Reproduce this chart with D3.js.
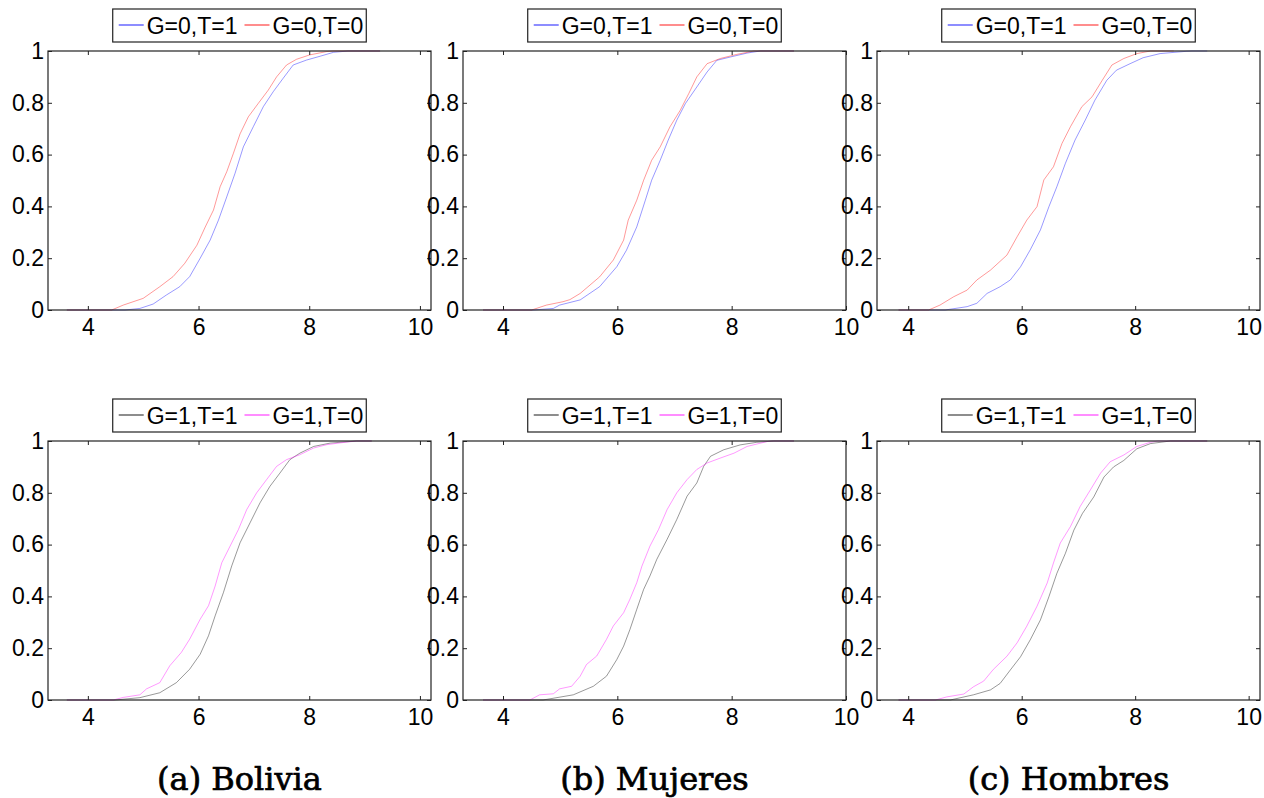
<!DOCTYPE html>
<html>
<head>
<meta charset="utf-8">
<script src="https://cdn.jsdelivr.net/npm/d3@7"></script>
<style>
  body { margin: 0; background: #fff; }
  svg { display: block; }
  .tick text { font-family: "Liberation Sans", Arial, sans-serif; font-size: 23px; fill: #000; }
</style>
</head>
<body>
<div id="chart"></div>
<script>
// tick labels and captions
const xTicks = [4, 6, 8, 10];
const yTicks = [0, 0.2, 0.4, 0.6, 0.8, 1];
const captions = ["(a) Bolivia", "(b) Mujeres", "(c) Hombres"];
const legendTop = ["G=0,T=1", "G=0,T=0"];
const legendBottom = ["G=1,T=1", "G=1,T=0"];

const boliviaG0T1 = [[3.62,0],[4.67,0],[4.94,0.006],[5.18,0.023],[5.42,0.058],[5.66,0.09],[5.84,0.129],[6.03,0.2],[6.21,0.27],[6.36,0.347],[6.51,0.437],[6.66,0.528],[6.81,0.63],[6.99,0.708],[7.17,0.785],[7.35,0.843],[7.53,0.895],[7.71,0.946],[7.95,0.965],[8.2,0.98],[8.44,0.995],[8.7,1],[9.28,1]];
const boliviaG0T0 = [[3.62,0],[4.43,0],[4.64,0.019],[5.0,0.045],[5.3,0.09],[5.54,0.129],[5.75,0.18],[5.97,0.25],[6.12,0.32],[6.27,0.386],[6.39,0.476],[6.51,0.534],[6.63,0.605],[6.75,0.68],[6.9,0.746],[7.08,0.798],[7.26,0.849],[7.41,0.9],[7.59,0.946],[7.77,0.968],[8.01,0.985],[8.32,0.998],[8.45,1],[9.28,1]];
const mujeresG0T1 = [[3.65,0],[4.53,0],[4.88,0.006],[4.99,0.019],[5.35,0.039],[5.69,0.09],[5.99,0.167],[6.16,0.231],[6.34,0.321],[6.49,0.424],[6.6,0.501],[6.75,0.578],[6.89,0.656],[7.04,0.733],[7.19,0.797],[7.39,0.861],[7.57,0.919],[7.74,0.964],[7.98,0.977],[8.27,0.992],[8.5,1],[9.09,1]];
const mujeresG0T0 = [[3.65,0],[4.5,0],[4.76,0.019],[5.05,0.032],[5.17,0.04],[5.35,0.064],[5.69,0.128],[5.93,0.193],[6.11,0.27],[6.19,0.347],[6.34,0.424],[6.46,0.501],[6.6,0.578],[6.75,0.63],[6.92,0.707],[7.1,0.771],[7.25,0.836],[7.39,0.9],[7.57,0.951],[7.8,0.971],[8.09,0.987],[8.39,1],[9.09,1]];
const hombresG0T1 = [[3.83,0],[4.65,0],[5.04,0.013],[5.21,0.026],[5.39,0.064],[5.62,0.09],[5.8,0.116],[5.98,0.167],[6.15,0.232],[6.33,0.309],[6.48,0.399],[6.62,0.476],[6.77,0.566],[6.94,0.656],[7.12,0.733],[7.29,0.81],[7.5,0.887],[7.67,0.926],[7.91,0.951],[8.14,0.974],[8.44,0.99],[8.91,0.999],[9.0,1],[9.27,1]];
const hombresG0T0 = [[3.83,0],[4.36,0],[4.56,0.019],[4.8,0.051],[5.04,0.077],[5.21,0.116],[5.45,0.154],[5.74,0.212],[5.92,0.283],[6.09,0.347],[6.27,0.399],[6.39,0.502],[6.56,0.553],[6.71,0.643],[6.86,0.708],[7.06,0.785],[7.24,0.823],[7.42,0.887],[7.59,0.946],[7.8,0.971],[8.03,0.99],[8.27,1],[8.68,1]];

const boliviaG1T1 = [[3.62,0],[4.49,0],[4.94,0.009],[5.3,0.028],[5.6,0.067],[5.84,0.119],[6.03,0.177],[6.18,0.248],[6.3,0.325],[6.45,0.415],[6.6,0.518],[6.75,0.607],[6.93,0.684],[7.11,0.761],[7.29,0.825],[7.47,0.876],[7.65,0.928],[7.83,0.953],[8.08,0.979],[8.38,0.992],[8.74,0.998],[8.85,1],[9.13,1]];
const boliviaG1T0 = [[3.62,0],[4.46,0],[4.64,0.01],[4.94,0.02],[5.06,0.043],[5.3,0.067],[5.48,0.132],[5.69,0.184],[5.84,0.235],[6.03,0.312],[6.18,0.364],[6.3,0.44],[6.42,0.53],[6.57,0.594],[6.72,0.658],[6.87,0.735],[7.05,0.8],[7.23,0.851],[7.41,0.902],[7.59,0.928],[7.83,0.947],[8.08,0.973],[8.32,0.986],[8.68,0.996],[8.86,1],[9.13,1]];
const mujeresG1T1 = [[3.65,0],[4.7,0],[5.23,0.02],[5.58,0.053],[5.81,0.092],[5.99,0.156],[6.11,0.208],[6.22,0.272],[6.34,0.35],[6.46,0.427],[6.57,0.479],[6.69,0.543],[6.87,0.62],[7.04,0.697],[7.22,0.787],[7.39,0.838],[7.51,0.902],[7.63,0.941],[7.86,0.966],[8.15,0.985],[8.44,0.995],[8.74,1],[9.09,1]];
const mujeresG1T0 = [[3.65,0],[4.47,0],[4.64,0.02],[4.88,0.024],[4.99,0.043],[5.2,0.053],[5.35,0.092],[5.46,0.137],[5.64,0.17],[5.81,0.234],[5.93,0.286],[6.11,0.337],[6.22,0.389],[6.34,0.453],[6.43,0.517],[6.57,0.594],[6.72,0.658],[6.87,0.735],[7.04,0.8],[7.22,0.851],[7.39,0.89],[7.57,0.915],[7.8,0.934],[8.04,0.953],[8.27,0.979],[8.62,0.998],[8.7,1],[9.09,1]];
const hombresG1T1 = [[3.83,0],[4.74,0],[5.15,0.02],[5.45,0.039],[5.62,0.064],[5.8,0.116],[5.98,0.167],[6.15,0.232],[6.33,0.309],[6.48,0.399],[6.62,0.489],[6.77,0.566],[6.92,0.656],[7.07,0.72],[7.27,0.784],[7.45,0.861],[7.62,0.9],[7.8,0.925],[8.03,0.97],[8.27,0.99],[8.62,1],[9.27,1]];
const hombresG1T0 = [[3.83,0],[4.48,0],[4.68,0.012],[4.98,0.023],[5.15,0.051],[5.33,0.073],[5.5,0.118],[5.74,0.169],[5.92,0.221],[6.09,0.285],[6.27,0.362],[6.45,0.452],[6.56,0.529],[6.68,0.606],[6.86,0.67],[7.03,0.747],[7.21,0.811],[7.39,0.876],[7.56,0.92],[7.8,0.946],[8.03,0.979],[8.27,0.995],[8.4,1],[9.27,1]];

const width = 1264, height = 798;
const colLeft = [48, 463, 877];
const rowTop = [51, 441];
const plotW = 383, plotH = 259;
const xDomains = [[3.28, 10.2], [3.3, 10.0], [3.45, 10.2]];

const panels = [
    { col: 0, row: 0, a: boliviaG0T1, b: boliviaG0T0, ca: "#0000ff", cb: "#ff0000", names: legendTop },
    { col: 1, row: 0, a: mujeresG0T1, b: mujeresG0T0, ca: "#0000ff", cb: "#ff0000", names: legendTop },
    { col: 2, row: 0, a: hombresG0T1, b: hombresG0T0, ca: "#0000ff", cb: "#ff0000", names: legendTop },
    { col: 0, row: 1, a: boliviaG1T1, b: boliviaG1T0, ca: "#000000", cb: "#ff00ff", names: legendBottom },
    { col: 1, row: 1, a: mujeresG1T1, b: mujeresG1T0, ca: "#000000", cb: "#ff00ff", names: legendBottom },
    { col: 2, row: 1, a: hombresG1T1, b: hombresG1T0, ca: "#000000", cb: "#ff00ff", names: legendBottom }
];

const svg = d3.select("#chart")
    .append("svg")
    .attr("width", width)
    .attr("height", height);

panels.forEach(p => {
    const left = colLeft[p.col], top = rowTop[p.row];
    const g = svg.append("g").attr("transform", `translate(${left},${top})`);

    const xScale = d3.scaleLinear().domain(xDomains[p.col]).range([0, plotW]);
    const yScale = d3.scaleLinear().domain([0, 1]).range([plotH, 0]);

    const line = d3.line()
        .x(d => xScale(d[0]))
        .y(d => yScale(d[1]));

    [[p.a, p.ca], [p.b, p.cb]].forEach(([data, color]) => {
        g.append("path")
            .datum(data)
            .attr("fill", "none")
            .attr("stroke", color)
            .attr("stroke-opacity", 0.4)
            .attr("stroke-width", 1)
            .attr("d", line);
    });

    // inward ticks on all four sides, labels only bottom/left
    const xb = g.append("g")
        .attr("transform", `translate(0,${plotH})`)
        .call(d3.axisBottom(xScale).tickValues(xTicks).tickSizeInner(-4).tickSizeOuter(0).tickPadding(9).tickFormat(d => String(d)));
    const xt = g.append("g")
        .call(d3.axisTop(xScale).tickValues(xTicks).tickSizeInner(-4).tickSizeOuter(0).tickFormat(""));
    const yl = g.append("g")
        .call(d3.axisLeft(yScale).tickValues(yTicks).tickSizeInner(-4).tickSizeOuter(0).tickPadding(4).tickFormat(d => String(d)));
    const yr = g.append("g")
        .attr("transform", `translate(${plotW},0)`)
        .call(d3.axisRight(yScale).tickValues(yTicks).tickSizeInner(-4).tickSizeOuter(0).tickFormat(""));
    [xb, xt, yl, yr].forEach(a => {
        a.select(".domain").remove();
        a.selectAll(".tick line").attr("stroke", "#222");
    });

    g.append("rect")
        .attr("width", plotW)
        .attr("height", plotH)
        .attr("fill", "none")
        .attr("stroke", "#222")
        .attr("stroke-width", 1.2);

    // legend
    const lg = svg.append("g");
    const box = lg.append("rect")
        .attr("fill", "#fff")
        .attr("stroke", "#222")
        .attr("stroke-width", 1.2);
    let cx = 6;
    [[p.names[0], p.ca], [p.names[1], p.cb]].forEach(([name, color], i) => {
        lg.append("line")
            .attr("x1", cx).attr("x2", cx + 25)
            .attr("y1", 16).attr("y2", 16)
            .attr("stroke", color)
            .attr("stroke-opacity", 0.75)
            .attr("stroke-width", 1.2);
        const t = lg.append("text")
            .attr("x", cx + 28)
            .attr("y", 24.5)
            .attr("font-family", "Liberation Sans, Arial, sans-serif")
            .attr("font-size", 23)
            .text(name);
        cx += 28 + t.node().getComputedTextLength() + 7;
    });
    const boxW = cx - 4;
    box.attr("width", boxW).attr("height", 33);
    lg.attr("transform", `translate(${left + plotW / 2 - boxW / 2},${top - 42})`);
});

svg.selectAll(".caption")
    .data(captions)
    .enter().append("text")
    .attr("class", "caption")
    .attr("x", (d, i) => colLeft[i] + plotW / 2)
    .attr("y", 790)
    .attr("text-anchor", "middle")
    .attr("font-family", "DejaVu Serif, serif")
    .attr("font-size", 32)
    .attr("stroke", "#000")
    .attr("stroke-width", 0.7)
    .text(d => d);
</script>
</body>
</html>
